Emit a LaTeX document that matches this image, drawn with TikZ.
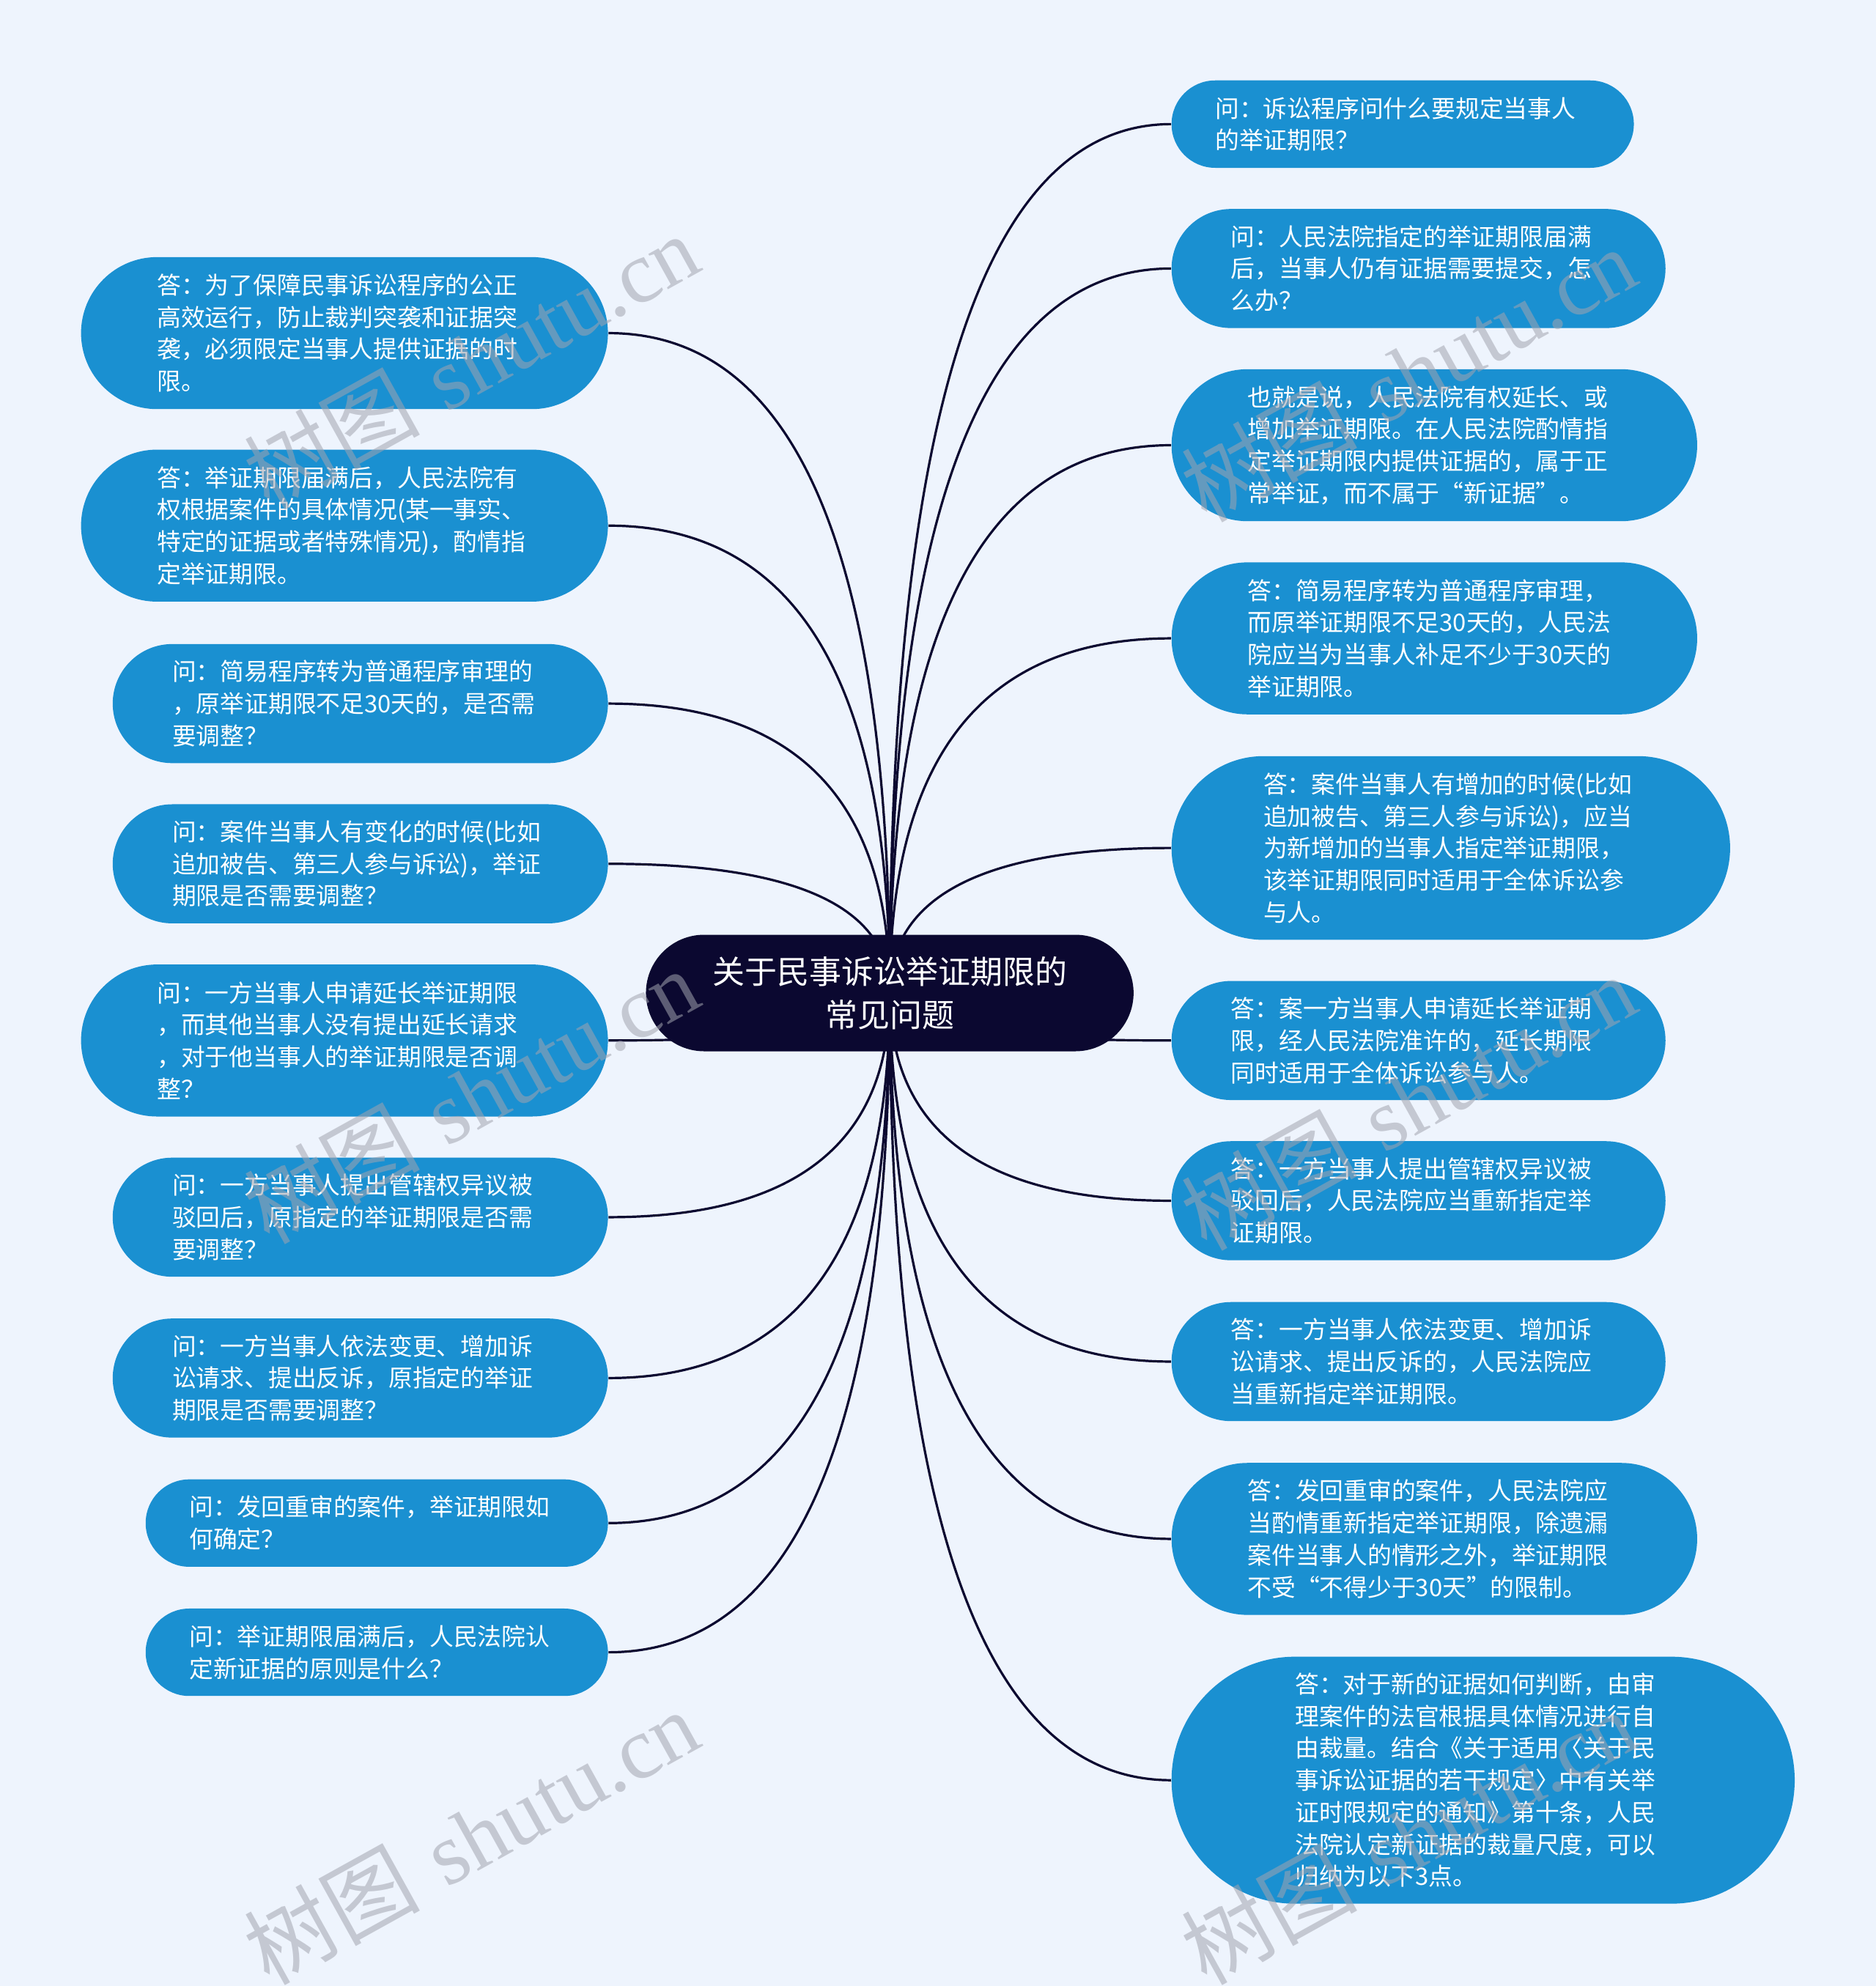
\documentclass[tikz,border=0pt]{standalone}
\usepackage{fontspec}
\newfontfamily\cjk{Noto Sans CJK SC}
\newfontfamily\wmlat{Liberation Serif}
\usetikzlibrary{calc}
\definecolor{bgc}{HTML}{EEF4FD}
\definecolor{nodeblue}{HTML}{1A90D1}
\definecolor{rootc}{HTML}{0B0830}
\definecolor{linec}{HTML}{0B0830}
\definecolor{wmc}{HTML}{A2A4AF}
\pgfdeclarelayer{back}
\pgfsetlayers{back,main}
\newcommand{\bx}[6]{%
  \node[box, text width={(#4-#5)*0.43215pt}, inner xsep={#5*0.5*0.43215pt},
        minimum height={#5*0.43215pt}, rounded corners={#5*0.5*0.43215pt}] (#1) at (#2,#3) {#6};}
\begin{document}
\begin{tikzpicture}[x=0.43215pt,y=-0.43215pt,
  box/.style={fill=nodeblue, text=white, align=left, inner ysep=0pt,
    font=\cjk\fontsize{8.2pt}{10.93pt}\selectfont},
  rootbox/.style={fill=rootc, text=white, align=center, inner sep=0pt,
    minimum width={385*0.43215pt}, minimum height={92*0.43215pt},
    rounded corners={46*0.43215pt}, font=\cjk\fontsize{11pt}{14.7pt}\selectfont},
  conn/.style={draw=linec, line width=0.8pt},
  wmark/.style={text=wmc, opacity=0.55, rotate=29, inner sep=0pt,
    font=\fontsize{30pt}{30pt}\selectfont}
]
\useasboundingbox (0,0) rectangle (1481,1568);

\node[rootbox] (root) at (702.5,784) {关于民事诉讼举证期限的\\常见问题};

% left side
\bx{L1}{272}{263}{416}{120}{答：为了保障民事诉讼程序的公正\\高效运行，防止裁判突袭和证据突\\袭，必须限定当事人提供证据的时\\限。}
\bx{L2}{272}{415}{416}{120}{答：举证期限届满后，人民法院有\\权根据案件的具体情况(某一事实、\\特定的证据或者特殊情况)，酌情指\\定举证期限。}
\bx{L3}{284.5}{555.5}{391}{94}{问：简易程序转为普通程序审理的\\，原举证期限不足30天的，是否需\\要调整？}
\bx{L4}{284.5}{682}{391}{94}{问：案件当事人有变化的时候(比如\\追加被告、第三人参与诉讼)，举证\\期限是否需要调整？}
\bx{L5}{272}{821.5}{416}{120}{问：一方当事人申请延长举证期限\\，而其他当事人没有提出延长请求\\，对于他当事人的举证期限是否调\\整？}
\bx{L6}{284.5}{961}{391}{94}{问：一方当事人提出管辖权异议被\\驳回后，原指定的举证期限是否需\\要调整？}
\bx{L7}{284.5}{1088}{391}{94}{问：一方当事人依法变更、增加诉\\讼请求、提出反诉，原指定的举证\\期限是否需要调整？}
\bx{L8}{297.5}{1202.5}{365}{69}{问：发回重审的案件，举证期限如\\何确定？}
\bx{L9}{297.5}{1304.5}{365}{69}{问：举证期限届满后，人民法院认\\定新证据的原则是什么？}

% right side
\bx{R1}{1107.5}{98}{365}{69}{问：诉讼程序问什么要规定当事人\\的举证期限？}
\bx{R2}{1120}{212}{390}{94}{问：人民法院指定的举证期限届满\\后，当事人仍有证据需要提交，怎\\么办？}
\bx{R3}{1132.5}{351.5}{415}{120}{也就是说，人民法院有权延长、或\\增加举证期限。在人民法院酌情指\\定举证期限内提供证据的，属于正\\常举证，而不属于“新证据”。}
\bx{R4}{1132.5}{504}{415}{120}{答：简易程序转为普通程序审理，\\而原举证期限不足30天的，人民法\\院应当为当事人补足不少于30天的\\举证期限。}
\bx{R5}{1145.5}{669.5}{441}{145}{答：案件当事人有增加的时候(比如\\追加被告、第三人参与诉讼)，应当\\为新增加的当事人指定举证期限，\\该举证期限同时适用于全体诉讼参\\与人。}
\bx{R6}{1120}{821.5}{390}{94}{答：案一方当事人申请延长举证期\\限，经人民法院准许的，延长期限\\同时适用于全体诉讼参与人。}
\bx{R7}{1120}{948}{390}{94}{答：一方当事人提出管辖权异议被\\驳回后，人民法院应当重新指定举\\证期限。}
\bx{R8}{1120}{1075}{390}{94}{答：一方当事人依法变更、增加诉\\讼请求、提出反诉的，人民法院应\\当重新指定举证期限。}
\bx{R9}{1132.5}{1215}{415}{120}{答：发回重审的案件，人民法院应\\当酌情重新指定举证期限，除遗漏\\案件当事人的情形之外，举证期限\\不受“不得少于30天”的限制。}
\bx{R10}{1171}{1405.5}{492}{195}{答：对于新的证据如何判断，由审\\理案件的法官根据具体情况进行自\\由裁量。结合《关于适用〈关于民\\事诉讼证据的若干规定〉中有关举\\证时限规定的通知》第十条，人民\\法院认定新证据的裁量尺度，可以\\归纳为以下3点。}

\begin{pgfonlayer}{back}
  \fill[bgc] (0,0) rectangle (1481,1568);
  \foreach \n in {L1,L2,L3,L4,L5,L6,L7,L8,L9} {
    \coordinate (k) at (root.center |- \n.east);
    \draw[conn] (root.center) .. controls ($(root.center)!0.6667!(k)$) and ($(\n.east)!0.6667!(k)$) .. (\n.east);
  }
  \foreach \n in {R1,R2,R3,R4,R5,R6,R7,R8,R9,R10} {
    \coordinate (k) at (root.center |- \n.west);
    \draw[conn] (root.center) .. controls ($(root.center)!0.6667!(k)$) and ($(\n.west)!0.6667!(k)$) .. (\n.west);
  }
\end{pgfonlayer}

% watermarks
\node[wmark] (w1) at (372,285) {{\cjk 树图} {\wmlat shutu.cn}};
\node[wmark] (w2) at (372,865) {{\cjk 树图} {\wmlat shutu.cn}};
\node[wmark] (w3) at (372,1450) {{\cjk 树图} {\wmlat shutu.cn}};
\node[wmark] (w4) at (1112,295) {{\cjk 树图} {\wmlat shutu.cn}};
\node[wmark] (w5) at (1112,870) {{\cjk 树图} {\wmlat shutu.cn}};
\node[wmark] (w6) at (1112,1450) {{\cjk 树图} {\wmlat shutu.cn}};
\end{tikzpicture}
\end{document}
